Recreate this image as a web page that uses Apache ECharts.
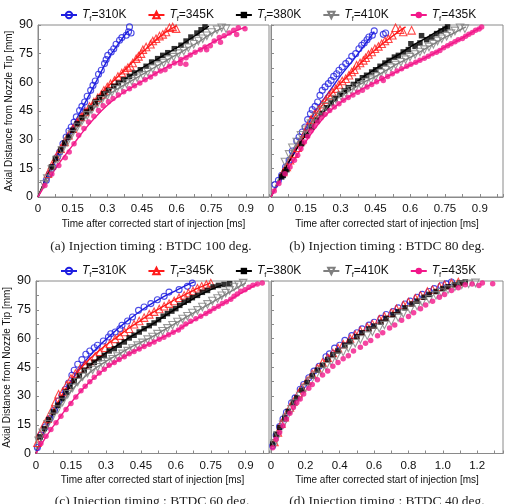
<!DOCTYPE html>
<html><head><meta charset="utf-8">
<script src="https://cdn.jsdelivr.net/npm/echarts@6/dist/echarts.min.js"></script>
<style>html,body{margin:0;padding:0;background:#fff}#c{width:509px;height:504px}</style>
</head><body><div id="c"></div><script>
// ---------- data: [time ms, axial distance mm] ----------
const temps = ['310K','345K','380K','410K','435K'];
const captions = ['(a) Injection timing : BTDC 100 deg.','(b) Injection timing : BTDC 80 deg.','(c) Injection timing : BTDC 60 deg.','(d) Injection timing : BTDC 40 deg.'];
const xTitle = 'Time after corrected start of injection [ms]';
const yTitle = 'Axial Distance from Nozzle Tip [mm]';

// (a) BTDC 100
const a310 = [[0.036,8.7],[0.05,12.2],[0.065,15.7],[0.084,20.9],[0.094,23.5],[0.108,27.9],[0.122,31.4],[0.134,34.5],[0.144,36.6],[0.156,39.2],[0.166,41.9],[0.18,45.3],[0.19,47.4],[0.202,49.7],[0.213,52.7],[0.228,55.8],[0.238,58.4],[0.248,60.7],[0.262,64.2],[0.274,66.3],[0.288,69.8],[0.295,71.9],[0.302,74.1],[0.317,75.9],[0.328,77.6],[0.338,79.9],[0.353,82],[0.363,83.4],[0.382,84.6],[0.392,86.5],[0.396,89],[0.403,85.8]];
const a345 = [[0.043,12.2],[0.06,16.6],[0.079,20.9],[0.098,25.3],[0.115,28.8],[0.132,32.3],[0.151,35.8],[0.17,39.2],[0.187,41.9],[0.204,44.5],[0.223,47.4],[0.242,49.7],[0.259,52],[0.274,53.7],[0.285,55.8],[0.3,57.6],[0.314,59.3],[0.331,61],[0.346,63.1],[0.363,64.9],[0.377,66.3],[0.389,67.7],[0.4,68.4],[0.41,70.1],[0.425,72.4],[0.435,73.6],[0.446,75],[0.454,77.1],[0.468,78.5],[0.487,79.9],[0.497,81.6],[0.511,82.8],[0.526,84.2],[0.54,85.1],[0.554,86.3],[0.569,88.6],[0.583,89],[0.598,88.1]];
const a380 = [[0.058,15.7],[0.075,20.1],[0.098,24.8],[0.115,28.3],[0.132,31.4],[0.151,34.9],[0.17,38.4],[0.19,41.5],[0.209,44.5],[0.228,46.7],[0.248,49.7],[0.266,52],[0.285,54.1],[0.305,55.8],[0.328,57.9],[0.348,59.6],[0.371,61.4],[0.396,63.1],[0.418,64.9],[0.443,66.6],[0.468,68.4],[0.492,70.6],[0.518,72.4],[0.54,74.1],[0.562,75.5],[0.59,77.6],[0.619,79.4],[0.641,81.6],[0.662,83.7],[0.688,85.8],[0.706,87.5],[0.723,89]];
const a410 = [[0.026,6.6],[0.04,9.6],[0.06,14.3],[0.084,19.5],[0.104,24.4],[0.127,28.8],[0.147,32.8],[0.17,36.6],[0.19,39.8],[0.213,42.7],[0.233,45.7],[0.256,48.5],[0.276,50.6],[0.3,53],[0.32,54.8],[0.34,56.3],[0.363,57.9],[0.383,59.3],[0.406,60.7],[0.429,62.4],[0.454,63.7],[0.475,65.4],[0.497,67.1],[0.521,68.7],[0.544,70.1],[0.564,71.9],[0.587,73.2],[0.608,75],[0.631,76.4],[0.651,78.1],[0.674,79.9],[0.694,81.6],[0.713,82.8],[0.731,84.4],[0.752,86.1],[0.775,87.5],[0.795,88.6],[0.814,88.1]];
const a435 = [[0.03,6],[0.06,12],[0.09,16.5],[0.118,20.6],[0.135,23.5],[0.156,27.9],[0.176,32.3],[0.199,35.8],[0.219,39.2],[0.242,42.2],[0.262,45.3],[0.282,47.8],[0.305,49.9],[0.325,51.6],[0.348,53.4],[0.371,55.1],[0.396,56.7],[0.418,58.2],[0.441,59.6],[0.464,61.4],[0.487,62.8],[0.507,64.5],[0.53,65.9],[0.55,66.6],[0.569,68.4],[0.59,70.1],[0.616,69.8],[0.619,71.9],[0.64,69.5],[0.641,72.9],[0.659,74.3],[0.68,75.7],[0.703,77.1],[0.723,78.5],[0.73,77],[0.746,79.2],[0.763,81.6],[0.79,81],[0.785,83.4],[0.806,84.4],[0.828,85.8],[0.86,85],[0.847,87.2],[0.867,88.6],[0.896,88.1]];
const aFit310 = [[0,0],[0.05,13],[0.1,25.5],[0.15,37],[0.2,48.5],[0.25,60],[0.3,71.5],[0.35,80.5],[0.39,87]];
const aFit345 = [[0,0],[0.05,14],[0.1,25.5],[0.15,35.5],[0.2,44],[0.25,51],[0.3,57.5],[0.35,63.5],[0.4,69.5],[0.45,75.5],[0.5,81],[0.55,86],[0.6,89.5]];
const aFit380 = [[0,0],[0.05,14],[0.1,25.5],[0.15,35],[0.2,43],[0.25,49.5],[0.3,55],[0.35,59.5],[0.4,63.5],[0.45,67.5],[0.5,71],[0.55,74.5],[0.6,78],[0.65,82],[0.7,86],[0.74,89.5]];
const aFit410 = [[0,0],[0.05,12.5],[0.1,23.5],[0.15,33],[0.2,41],[0.25,47.5],[0.3,53],[0.35,57],[0.4,60.5],[0.45,64],[0.5,67.5],[0.55,71],[0.6,74.5],[0.65,78],[0.7,81.5],[0.75,85.5],[0.8,88.5]];
const aFit435 = [[0,0],[0.05,10],[0.1,19],[0.15,27],[0.2,35],[0.25,42],[0.3,48],[0.35,53],[0.4,57],[0.45,60.5],[0.5,64],[0.55,67.5],[0.6,70.5],[0.65,74],[0.7,77],[0.75,80.5],[0.8,83.5],[0.85,86.5],[0.9,89]];

// (b) BTDC 80
const b310 = [[0.017,6.5],[0.032,8.7],[0.046,11.3],[0.063,15.7],[0.078,19.2],[0.092,24.1],[0.111,29.3],[0.121,31.4],[0.135,34],[0.147,36.6],[0.158,40.5],[0.17,43.6],[0.178,45.7],[0.19,47.4],[0.201,49.7],[0.211,53.2],[0.221,55.8],[0.233,57.6],[0.247,59.3],[0.259,61],[0.27,63.1],[0.283,64.5],[0.293,66.3],[0.307,68],[0.322,69.8],[0.336,71.2],[0.348,73.6],[0.365,75],[0.379,77.6],[0.391,79.4],[0.402,80.6],[0.414,82.3],[0.422,83.7],[0.437,84.6],[0.445,86.9],[0.484,85.1],[0.494,85.8]];
const b345 = [[0.053,13.1],[0.068,15.7],[0.082,19.2],[0.101,22.7],[0.115,25.8],[0.129,29.3],[0.144,33.1],[0.158,37],[0.172,40.5],[0.187,43.3],[0.204,45.7],[0.221,48.5],[0.236,50.9],[0.25,53.2],[0.264,54.9],[0.279,56.7],[0.293,58.9],[0.307,60.7],[0.322,61.9],[0.336,63.7],[0.348,65.4],[0.359,66.6],[0.369,68.9],[0.384,70.1],[0.398,71.5],[0.408,72.9],[0.42,74.6],[0.434,75.9],[0.448,77.6],[0.463,78.8],[0.477,80.2],[0.491,81.6],[0.506,82.8],[0.523,84.6],[0.537,88.6],[0.556,87.5],[0.57,86.3],[0.606,87.2]];
const b380 = [[0.046,10.5],[0.053,11.3],[0.06,13.1],[0.068,14.3],[0.132,27.9],[0.154,32.3],[0.175,36.6],[0.197,40.1],[0.218,43.6],[0.24,46.7],[0.259,49.2],[0.276,51.4],[0.297,53.7],[0.316,55.5],[0.333,57.2],[0.355,58.9],[0.374,60.7],[0.394,62.4],[0.412,63.7],[0.434,65.4],[0.451,66.6],[0.47,68.4],[0.491,70.1],[0.509,71.5],[0.532,73.2],[0.549,74.1],[0.57,75.9],[0.592,77.1],[0.603,80.2],[0.621,78.8],[0.642,80.6],[0.649,84.4],[0.671,82.3],[0.693,83.7],[0.714,85.5],[0.733,86.9],[0.75,87.9],[0.761,89]];
const b410 = [[0.06,18.3],[0.078,22.3],[0.092,25.8],[0.111,28.8],[0.129,32.3],[0.149,35.2],[0.172,38.4],[0.193,41.9],[0.216,45],[0.236,47.4],[0.259,49.5],[0.279,51.3],[0.302,52.7],[0.322,54.4],[0.345,55.8],[0.365,57.2],[0.388,58.4],[0.408,60.2],[0.431,61.4],[0.451,63.1],[0.474,64.9],[0.494,66.3],[0.517,67.7],[0.537,69.1],[0.56,70.5],[0.58,71.9],[0.599,73.2],[0.621,74.6],[0.642,75.9],[0.661,77.1],[0.681,78.5],[0.7,79.9],[0.718,81.6],[0.736,82.8],[0.757,84.1],[0.776,85.5],[0.793,86.9],[0.815,88.6],[0.836,88.1]];
const b435 = [[0.014,3.1],[0.034,7],[0.06,12.2],[0.082,15.7],[0.101,19.2],[0.115,21.8],[0.129,25.3],[0.144,28.8],[0.158,31.7],[0.172,34.5],[0.187,37],[0.201,39.2],[0.216,41.5],[0.233,43.3],[0.253,45.3],[0.273,47.1],[0.293,48.8],[0.313,50.6],[0.333,52],[0.353,53.4],[0.374,54.8],[0.394,55.8],[0.414,57.6],[0.434,58.9],[0.455,60.3],[0.477,62.1],[0.484,61],[0.503,63.1],[0.523,64.5],[0.543,65.9],[0.563,67.1],[0.585,68.4],[0.603,69.4],[0.624,70.5],[0.642,71.5],[0.661,72.6],[0.678,73.6],[0.695,75],[0.713,75.7],[0.728,76.7],[0.744,78.1],[0.761,79.2],[0.776,80.2],[0.793,81.3],[0.807,82.3],[0.825,83],[0.839,84.1],[0.853,85.1],[0.868,86.1],[0.882,87.2],[0.897,87.9],[0.908,89]];
const bFit310 = [[0,0],[0.05,12],[0.1,24],[0.15,36],[0.2,46.5],[0.25,55],[0.3,63.5],[0.35,71],[0.4,79],[0.445,86.5]];
const bFit345 = [[0,0],[0.05,12],[0.1,23],[0.15,34],[0.2,44.5],[0.25,52.5],[0.3,59.5],[0.35,65.5],[0.4,71.5],[0.45,77],[0.5,82],[0.55,86.5],[0.58,89]];
const bFit380 = [[0,0],[0.05,12.5],[0.1,23],[0.15,32.5],[0.2,40.5],[0.25,47.5],[0.3,53.5],[0.35,58.5],[0.4,63],[0.45,67],[0.5,71],[0.55,74.5],[0.6,78.5],[0.65,82],[0.7,85.5],[0.76,89.5]];
const bFit410 = [[0,0],[0.05,14],[0.1,26],[0.15,35],[0.2,42.5],[0.25,48.5],[0.3,53],[0.35,56.5],[0.4,60],[0.45,63],[0.5,66.5],[0.55,70],[0.6,73],[0.65,76.5],[0.7,80],[0.75,83.5],[0.8,86.5],[0.84,89]];
const bFit435 = [[0,0],[0.05,10.5],[0.1,19.5],[0.15,29],[0.2,37.5],[0.25,44.5],[0.3,49.5],[0.35,53.5],[0.4,57],[0.45,60],[0.5,63],[0.55,66],[0.6,69],[0.65,72],[0.7,75],[0.75,78.5],[0.8,81.5],[0.85,85],[0.9,88.5]];

// (c) BTDC 60
const c310 = [[0.006,3.1],[0.021,9.6],[0.04,13.9],[0.06,18.2],[0.079,22.6],[0.097,27.4],[0.111,30.4],[0.126,33.4],[0.14,36.8],[0.154,40.8],[0.164,43.4],[0.179,46.6],[0.197,49],[0.214,51.8],[0.231,53.5],[0.25,55.2],[0.264,56.5],[0.289,58.7],[0.311,60.8],[0.321,62.5],[0.34,63.4],[0.36,65.1],[0.369,66.9],[0.393,69.1],[0.414,71.2],[0.44,74.7],[0.464,76.4],[0.493,78.2],[0.521,80.2],[0.55,82],[0.571,84.2],[0.614,85.5],[0.65,87.2],[0.671,88.9]];
const c345 = [[0.006,5.6],[0.017,10.4],[0.036,15.3],[0.05,18.2],[0.069,22.9],[0.083,26.9],[0.097,30.9],[0.114,32.1],[0.131,35.6],[0.15,39.1],[0.169,41.7],[0.189,44.3],[0.211,46.6],[0.231,48.3],[0.254,50.7],[0.274,53],[0.297,55.2],[0.317,57.3],[0.34,59.8],[0.36,61.5],[0.38,63.4],[0.4,65.1],[0.421,67.4],[0.443,69.1],[0.464,70.9],[0.486,72.6],[0.507,74],[0.529,75.4],[0.55,76.8],[0.571,78.2],[0.593,79.6],[0.614,81.3],[0.636,82.5],[0.654,83.7],[0.674,84.8],[0.693,86.2],[0.711,87.2],[0.731,88.2],[0.75,88.9]];
const c380 = [[0.017,8.7],[0.036,13],[0.054,17.7],[0.074,21.7],[0.093,25.2],[0.111,28.7],[0.129,32.1],[0.146,35.1],[0.164,37.9],[0.186,40.6],[0.207,43.4],[0.229,45.9],[0.25,47.6],[0.271,49.5],[0.293,51.2],[0.314,53.5],[0.336,54.7],[0.357,56.5],[0.379,58.2],[0.4,60.3],[0.421,61.7],[0.443,63.4],[0.464,65.1],[0.486,66.7],[0.507,68.1],[0.526,69.8],[0.546,71.6],[0.564,73],[0.583,74.3],[0.6,75.6],[0.617,77.3],[0.636,78.9],[0.654,79.9],[0.671,81.3],[0.693,82.5],[0.714,84.1],[0.736,85.1],[0.76,86.9],[0.783,87.7],[0.807,88.2],[0.831,88.6]];
const c410 = [[0.011,6.6],[0.029,10.8],[0.05,15.3],[0.071,19.1],[0.093,22.9],[0.114,26.9],[0.136,30.9],[0.157,34.2],[0.179,37.3],[0.2,40],[0.221,42],[0.243,43.6],[0.264,45],[0.286,46.5],[0.307,47.8],[0.329,49.2],[0.35,50.6],[0.371,52],[0.393,53.4],[0.414,54.8],[0.436,56.3],[0.457,57.7],[0.479,59.4],[0.5,60.8],[0.521,62.3],[0.543,63.8],[0.564,65.3],[0.586,66.9],[0.607,68.6],[0.629,70.2],[0.65,71.6],[0.671,73.3],[0.693,74.7],[0.714,76.4],[0.736,77.8],[0.757,79.6],[0.779,80.9],[0.797,82.3],[0.814,83.7],[0.831,85.1],[0.85,86.9],[0.869,87.9],[0.889,88.9]];
const c435 = [[0.021,5.2],[0.043,9],[0.064,12.5],[0.086,16],[0.107,19.5],[0.129,22.9],[0.15,26.1],[0.171,29.5],[0.193,32.7],[0.211,35.1],[0.231,37.5],[0.25,39.8],[0.271,42],[0.293,44],[0.314,46],[0.336,47.5],[0.357,49],[0.379,50.5],[0.4,52],[0.421,53.2],[0.443,54.5],[0.464,55.8],[0.486,57],[0.507,58.2],[0.529,59.6],[0.549,60.6],[0.569,62],[0.589,63.2],[0.611,64.4],[0.626,66],[0.643,67.6],[0.664,69],[0.686,70.3],[0.707,71.6],[0.729,73],[0.746,74.2],[0.764,75.6],[0.783,76.8],[0.8,78.2],[0.817,79.2],[0.836,80.5],[0.85,82],[0.864,83.2],[0.879,84.6],[0.897,85.5],[0.914,86.8],[0.931,87.8],[0.95,88.5],[0.971,88.9]];
const cFit310 = [[0,0],[0.05,15.5],[0.1,27],[0.15,37.5],[0.2,46.5],[0.25,53.5],[0.3,59.5],[0.35,65],[0.4,70],[0.45,74.5],[0.5,78.5],[0.55,82],[0.6,85],[0.65,88],[0.68,89.5]];
const cFit345 = [[0,0],[0.05,16],[0.1,28],[0.15,38],[0.2,45.5],[0.25,51.5],[0.3,56.5],[0.35,61],[0.4,65.5],[0.45,69.5],[0.5,73.5],[0.55,77],[0.6,80.5],[0.65,83.5],[0.7,86.5],[0.75,89]];
const cFit380 = [[0,0],[0.05,15],[0.1,26.5],[0.15,35.5],[0.2,42.5],[0.25,48],[0.3,52.5],[0.35,56.5],[0.4,60.5],[0.45,64],[0.5,67.5],[0.55,71.5],[0.6,75.5],[0.65,79],[0.7,82.5],[0.75,85.5],[0.8,88]];
const cFit410 = [[0,0],[0.05,14],[0.1,24.5],[0.15,32.5],[0.2,39],[0.25,44],[0.3,48],[0.35,51.5],[0.4,55],[0.45,58],[0.5,61],[0.55,64.5],[0.6,68],[0.65,71.5],[0.7,75],[0.75,78.5],[0.8,82],[0.85,85.5],[0.9,89]];
const cFit435 = [[0,0],[0.05,10],[0.1,18.5],[0.15,26.5],[0.2,33.5],[0.25,39.5],[0.3,44.5],[0.35,48.5],[0.4,52],[0.45,55],[0.5,58],[0.55,61],[0.6,64],[0.65,67.5],[0.7,71],[0.75,74.5],[0.8,78],[0.85,81.5],[0.9,85],[0.95,88.5]];

// (d) BTDC 40
const d310 = [[0.01,4],[0.03,9.5],[0.05,14],[0.07,18],[0.09,21.5],[0.12,26.5],[0.14,29],[0.17,33.5],[0.19,36],[0.22,39.5],[0.25,43],[0.28,45.5],[0.32,50.5],[0.34,52],[0.37,55],[0.4,56.5],[0.43,59],[0.47,61.5],[0.5,63],[0.53,65],[0.57,67],[0.6,68.5],[0.64,70.5],[0.67,72.5],[0.71,74],[0.74,76],[0.78,78],[0.81,79.5],[0.85,81.5],[0.88,83],[0.92,84.5],[0.95,86],[0.99,87.5],[1.02,88.5],[1.05,89.5]];
const d345 = [[0.02,6],[0.04,11],[0.06,15.5],[0.08,19],[0.11,24],[0.13,27],[0.16,31.5],[0.18,34.5],[0.21,38],[0.24,41.5],[0.27,44.5],[0.3,47.5],[0.33,50],[0.36,52.5],[0.39,55],[0.42,57],[0.46,60],[0.49,62],[0.52,64],[0.56,66],[0.59,67.5],[0.63,70],[0.66,71.5],[0.7,73.5],[0.73,75.5],[0.77,77.5],[0.8,79],[0.84,81],[0.87,82.5],[0.91,84.5],[0.94,85.5],[0.98,87],[1.01,88],[1.05,89],[1.09,89.5]];
const d380 = [[0.01,5],[0.03,10],[0.05,13.5],[0.08,18.5],[0.1,22],[0.13,26.5],[0.15,29],[0.18,33],[0.21,37],[0.24,40.5],[0.27,43.5],[0.3,46],[0.33,49],[0.36,51.5],[0.39,53.5],[0.43,56.5],[0.46,58.5],[0.5,61],[0.53,63],[0.57,65],[0.6,66.5],[0.64,68.5],[0.67,70.5],[0.71,72.5],[0.74,74],[0.78,76],[0.82,78],[0.85,79.5],[0.89,81.5],[0.92,83],[0.96,84.5],[1.0,86],[1.03,87],[1.07,88],[1.1,89],[1.13,89.5]];
const d410 = [[0.02,5],[0.04,9.5],[0.07,15],[0.09,18.5],[0.12,23],[0.14,26],[0.17,30],[0.2,34],[0.23,37.5],[0.26,40.5],[0.29,43],[0.32,45.5],[0.35,48],[0.38,50.5],[0.42,53],[0.45,55],[0.49,57.5],[0.52,59.5],[0.56,61.5],[0.59,63.5],[0.63,65.5],[0.66,67],[0.7,69],[0.74,71],[0.77,73],[0.81,75],[0.85,77],[0.88,79],[0.92,80.5],[0.96,82.5],[0.99,84],[1.03,85.5],[1.07,87],[1.11,88],[1.15,88.5],[1.19,89]];
const d435 = [[0.01,3],[0.03,7.5],[0.05,11],[0.07,14.5],[0.09,18],[0.11,21],[0.13,24],[0.15,26.5],[0.17,28.5],[0.19,31],[0.22,34],[0.24,36],[0.27,38.5],[0.3,41],[0.33,43],[0.36,45.5],[0.39,47.5],[0.42,49.5],[0.45,51],[0.48,53.5],[0.52,55.5],[0.55,57.5],[0.58,59],[0.62,61.5],[0.65,63],[0.69,65.5],[0.72,67],[0.76,69.5],[0.8,71.5],[0.83,73.5],[0.87,75.5],[0.9,77.5],[0.94,79.5],[0.98,81.5],[1.01,83],[1.05,85],[1.09,86.5],[1.13,88],[1.17,88.5],[1.21,87.7],[1.23,89],[1.29,88.6]];

// ---------- chart ----------
const panelPoints = [[a310,a345,a380,a410,a435],[b310,b345,b380,b410,b435],[c310,c345,c380,c410,c435],[d310,d345,d380,d410,d435]];
const panelFits = [[aFit310,aFit345,aFit380,aFit410,aFit435],[bFit310,bFit345,bFit380,bFit410,bFit435],[cFit310,cFit345,cFit380,cFit410,cFit435],null];

const marks = [
  {symbol:'circle', size:6, rotate:0, color:'#1f1fe0', hollow:true},
  {symbol:'triangle', size:7.5, rotate:0, color:'#ff1a1a', hollow:true},
  {symbol:'rect', size:5.5, rotate:0, color:'#000000', hollow:false},
  {symbol:'triangle', size:7.5, rotate:180, color:'#7f7f7f', hollow:true},
  {symbol:'circle', size:5.5, rotate:0, color:'#f2178a', hollow:false}
];
function itemStyleOf(m){
  return m.hollow ? {color:'rgba(255,255,255,0)', borderColor:m.color, borderWidth:1.1}
                  : {color:m.color, borderWidth:0};
}
const grids = [
  {left:38, top:25, width:231, height:172},
  {left:271, top:25, width:232, height:172},
  {left:36, top:281, width:233, height:172.5},
  {left:271, top:281, width:232, height:172.5}
].map(g => Object.assign({show:true, borderColor:'#8a8a8a', borderWidth:1, backgroundColor:'#fff'}, g));

const axCol = '#8a8a8a';
const xLabelFont = {fontFamily:'"Liberation Sans", Arial, sans-serif', fontSize:11.5, color:'#111'};
const yLabelFont = {fontFamily:'"Liberation Sans", Arial, sans-serif', fontSize:12.5, color:'#111'};
const nameFont = {fontFamily:'"Liberation Sans", Arial, sans-serif', fontSize:10, color:'#111'};
function xAx(i){
  const isD = i === 3;
  return {gridIndex:i, type:'value', min:0, max:isD?1.35:1.0, interval:isD?0.2:0.15,
    name:xTitle, nameLocation:'middle', nameGap:22, nameTextStyle:nameFont,
    axisLine:{show:true, onZero:false, lineStyle:{color:axCol}},
    axisTick:{show:true, inside:true, length:3, lineStyle:{color:axCol}},
    minorTick:{show:true, splitNumber:2, length:3, lineStyle:{color:axCol}},
    splitLine:{show:false},
    axisLabel:Object.assign({margin:6, showMaxLabel:false,
      formatter: v => v === 0 ? '0' : (isD ? v.toFixed(1) : String(+v.toFixed(2)))}, xLabelFont)};
}
function yAx(i){
  const left = (i % 2 === 0);
  return {gridIndex:i, type:'value', min:0, max:90, interval:15,
    name:left ? yTitle : '', nameLocation:'middle', nameGap:24, nameTextStyle:nameFont,
    axisLine:{show:true, onZero:false, lineStyle:{color:axCol}},
    axisTick:{show:true, inside:true, length:3, lineStyle:{color:axCol}},
    minorTick:{show:true, splitNumber:2, length:3, lineStyle:{color:axCol}},
    splitLine:{show:false},
    axisLabel:Object.assign({show:left, margin:5}, yLabelFont)};
}

const series = [];
// fit curves first (legend takes its icon from the first series of each name)
panelFits.forEach((fits, p) => {
  if (!fits) return;
  fits.forEach((data, k) => {
    const m = marks[k];
    series.push({type:'line', name:temps[k], xAxisIndex:p, yAxisIndex:p, data, smooth:0.4,
      symbol:m.symbol, symbolSize:m.size, symbolRotate:m.rotate, showSymbol:false,
      itemStyle:itemStyleOf(m), lineStyle:{color:m.color, width:1.4}, z:2, silent:true});
  });
});
panelPoints.forEach((pts, p) => {
  pts.forEach((data, k) => {
    const m = marks[k];
    series.push({type:'scatter', name:temps[k], xAxisIndex:p, yAxisIndex:p, data,
      symbol:m.symbol, symbolSize:m.size, symbolRotate:m.rotate,
      itemStyle:itemStyleOf(m), z:3, silent:true});
  });
});

const legFont = '"Liberation Sans", Arial, sans-serif';
function legendAt(top){
  return {top, left:55, width:470, data:temps, itemWidth:16, itemHeight:8, itemGap:21,
    formatter: n => '{i|T}{s|f}{n|=' + n + '}',
    textStyle:{fontFamily:legFont, fontSize:12, color:'#111',
      rich:{i:{fontStyle:'italic', fontSize:12, fontFamily:legFont, lineHeight:15},
            s:{fontSize:7.5, fontFamily:legFont, verticalAlign:'bottom', lineHeight:9},
            n:{fontSize:12, fontFamily:legFont, lineHeight:15}}}};
}

const capPos = [[151,246],[387,246],[152,501],[387,501]];
const chart = echarts.init(document.getElementById('c'), null, {renderer:'canvas'});
chart.setOption({
  animation:false,
  backgroundColor:'#fff',
  grid:grids,
  xAxis:[0,1,2,3].map(xAx),
  yAxis:[0,1,2,3].map(yAx),
  legend:[legendAt(4), legendAt(260)],
  series,
  graphic:captions.map((t,i) => ({type:'text', x:capPos[i][0], y:capPos[i][1],
    style:{text:t, font:'13.5px "Liberation Serif", "DejaVu Serif", serif', fill:'#222', align:'center', verticalAlign:'middle'}}))
});
</script></body></html>
